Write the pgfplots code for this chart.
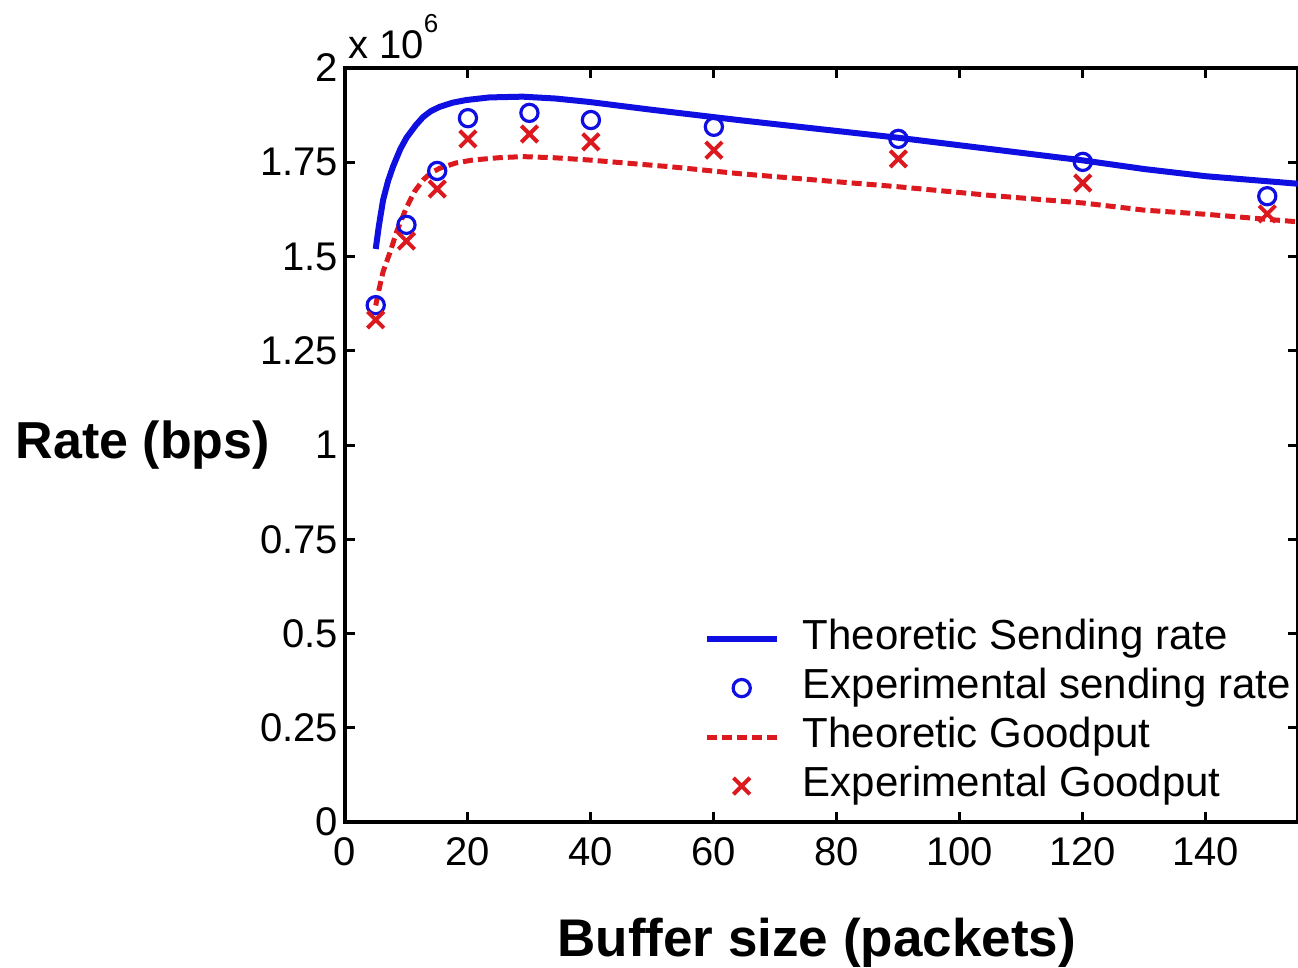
\documentclass[border=0pt]{standalone}
\usepackage{fontspec}
\setmainfont{Liberation Sans}
\usepackage{pgfplots}
\pgfplotsset{compat=1.18}

\definecolor{mblue}{RGB}{15,15,225}
\definecolor{mred}{RGB}{220,25,30}

\begin{document}
\begin{tikzpicture}
\begin{axis}[
    scale only axis,
    width=476.5pt, height=377pt,
    xmin=0, xmax=155, ymin=0, ymax=2,
    clip=false,
    xtick={0,20,...,140},
    ytick={0,0.25,...,2},
    yticklabels={0,0.25,0.5,0.75,1,1.25,1.5,1.75,2},
    scaled ticks=false,
    tick align=inside,
    major tick length=5pt,
    axis line style={line width=2pt},
    every tick/.style={black, line width=1.5pt},
    tick label style={font=\fontsize{20}{24}\selectfont},
    xticklabel style={yshift=-4pt},
    /pgf/number format/assume math mode=true,
    every axis y label/.style={at={(rel axis cs:-0.212,0.5)}, anchor=center,
        font=\fontsize{26}{30}\selectfont\bfseries},
    every axis x label/.style={at={(rel axis cs:0.495,-0.16)}, anchor=center,
        font=\fontsize{26.5}{30}\selectfont\bfseries},
    ylabel={Rate (bps)},
    xlabel={Buffer size (packets)},
    legend image code/.code={\draw[mark repeat=2,mark phase=2,#1]
        plot coordinates {(0cm,0cm) (0.615cm,0cm) (1.23cm,0cm)};},
    legend cell align=left,
    legend style={draw=none, fill=none, at={(rel axis cs:0.376,0.269)}, anchor=north west,
        font=\fontsize{21}{24}\selectfont, inner sep=0pt, row sep=5pt,
        nodes={inner ysep=0pt, text height=15pt, text depth=4.5pt},
        /tikz/every odd column/.append style={column sep=9.5pt}},
]
\addplot[mblue, line width=3pt] coordinates {
    (5,1.52) (5.5,1.58) (6.2,1.65) (7,1.70) (7.8,1.738) (9,1.785) (10,1.815)
    (11.5,1.848) (12.7,1.87) (14,1.886) (15.4,1.897) (17.5,1.908) (19.7,1.915)
    (23.5,1.922) (28.9,1.924) (34.3,1.919) (39.7,1.910) (50,1.889) (64,1.862)
    (75,1.842) (90,1.815) (105,1.785) (120,1.755) (130,1.732) (140,1.713) (155,1.693)};
\addlegendentry{Theoretic Sending rate}
\addplot[mblue, only marks, mark=o, mark size=4.3pt, line width=1.6pt] coordinates {
    (5,1.371) (10,1.584) (15,1.727) (20,1.867) (30,1.881) (40,1.862)
    (60,1.844) (90,1.812) (120,1.751) (150,1.66)};
\addlegendentry{Experimental sending rate}
\addplot[mred, line width=2.5pt, dash pattern=on 5pt off 2.5pt] coordinates {
    (5,1.37) (5.5,1.41) (6.2,1.46) (7.3,1.51) (8.5,1.57) (10,1.63) (11.3,1.672)
    (12.7,1.703) (14,1.722) (15.4,1.734) (18,1.748) (20.8,1.756) (25,1.762)
    (28.9,1.765) (34,1.762) (39.7,1.756) (53,1.738) (64,1.72) (75,1.705)
    (90,1.685) (105,1.662) (120,1.642) (130,1.623) (140,1.612) (155,1.592)};
\addlegendentry{Theoretic Goodput}
\addplot[mred, only marks, mark=x, mark size=5.8pt, line width=2pt] coordinates {
    (5,1.332) (10,1.541) (15,1.679) (20,1.812) (30,1.825) (40,1.804)
    (60,1.782) (90,1.759) (120,1.695) (150,1.613)};
\addlegendentry{Experimental Goodput}
\node[anchor=base west, inner sep=0pt, font=\fontsize{20}{24}\selectfont]
    at (rel axis cs:0.003,1.013) {x 10\raisebox{1.2ex}{\fontsize{13}{14}\selectfont 6}};
\coordinate (bbl) at (rel axis cs:-0.362,-0.1923);
\coordinate (btr) at (rel axis cs:1.0,1.0902);
\end{axis}
\pgfresetboundingbox
\path[use as bounding box] (bbl) rectangle (btr);
\end{tikzpicture}
\end{document}
